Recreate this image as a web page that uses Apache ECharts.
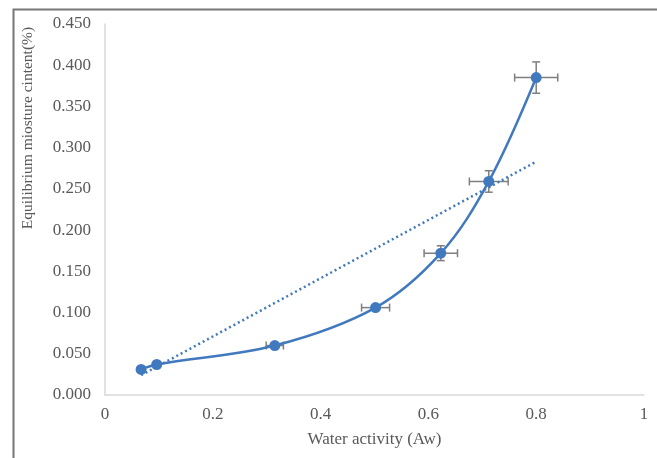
<!DOCTYPE html>
<html>
<head>
    <meta charset="utf-8">
    <script src="https://cdn.jsdelivr.net/npm/echarts@6/dist/echarts.min.js"></script>
    <style>
        html, body { margin: 0; padding: 0; background: #fff; }
        #chart { width: 657px; height: 458px; }
    </style>
</head>
<body>
<div id="chart"></div>
<script>
// 数据
const waterActivity = [0.067, 0.096, 0.315, 0.502, 0.623, 0.712, 0.800]
const moisture = [0.031, 0.037, 0.060, 0.106, 0.172, 0.259, 0.385]
const xError = [0.000, 0.000, 0.016, 0.026, 0.031, 0.036, 0.040]
const yError = [0.000, 0.000, 0.002, 0.003, 0.009, 0.013, 0.019]
// 趋势线两端
const trendX = [0.067, 0.800]
const trendY = [0.024, 0.283]
const xTickLabels = ['0', '0.2', '0.4', '0.6', '0.8', '1']
const yTickLabels = ['0.000', '0.050', '0.100', '0.150', '0.200', '0.250', '0.300', '0.350', '0.400', '0.450']

const blue = '#4179bf'
const errColor = '#7f7f7f'
const font = '"Liberation Serif", "Times New Roman", serif'

const chart = echarts.init(document.getElementById('chart'))

chart.setOption({
    animation: false,
    grid: {
        left: 105,
        right: 13,
        top: 24,
        bottom: 63
    },
    graphic: [{
        type: 'rect',
        left: 11,
        top: 7,
        shape: { width: 645, height: 470 },
        style: { fill: 'none', stroke: '#777', lineWidth: 2 },
        silent: true
    }, {
        type: 'text',
        x: 28,
        y: 128,
        rotation: Math.PI / 2,
        style: {
            text: 'Equilibrium miosture cintent(%)',
            fill: '#595959',
            font: '15.5px ' + font,
            align: 'center',
            verticalAlign: 'middle'
        }
    }],
    xAxis: {
        type: 'value',
        min: 0,
        max: 1,
        interval: 0.2,
        name: 'Water activity (Aw)',
        nameLocation: 'middle',
        nameGap: 36,
        nameTextStyle: { color: '#595959', fontSize: 17, fontFamily: font },
        axisLine: { lineStyle: { color: '#d9d9d9', width: 1.5 } },
        axisTick: { show: false },
        splitLine: { show: false },
        axisLabel: {
            color: '#595959',
            fontSize: 17,
            fontFamily: font,
            margin: 11,
            formatter: (v) => xTickLabels[Math.round(v / 0.2)]
        }
    },
    yAxis: {
        type: 'value',
        min: 0,
        max: 0.45,
        interval: 0.05,
        axisLine: { show: true, lineStyle: { color: '#d9d9d9', width: 1.5 } },
        axisTick: { show: false },
        splitLine: { show: false },
        axisLabel: {
            color: '#595959',
            fontSize: 17,
            fontFamily: font,
            margin: 14,
            formatter: (v) => yTickLabels[Math.round(v / 0.05)]
        }
    },
    series: [{
        // 误差线
        type: 'custom',
        z: 1,
        data: waterActivity.map((x, i) => [x, moisture[i], xError[i], yError[i]]),
        renderItem: (params, api) => {
            const x = api.value(0)
            const y = api.value(1)
            const ex = api.value(2)
            const ey = api.value(3)
            const c = api.coord([x, y])
            const l = api.coord([x - ex, y])
            const r = api.coord([x + ex, y])
            const t = api.coord([x, y + ey])
            const b = api.coord([x, y - ey])
            const style = { stroke: errColor, lineWidth: 1.5 }
            const cap = 4
            const children = []
            if (ex > 0) {
                children.push(
                    { type: 'line', shape: { x1: l[0], y1: c[1], x2: r[0], y2: c[1] }, style },
                    { type: 'line', shape: { x1: l[0], y1: c[1] - cap, x2: l[0], y2: c[1] + cap }, style },
                    { type: 'line', shape: { x1: r[0], y1: c[1] - cap, x2: r[0], y2: c[1] + cap }, style }
                )
            }
            if (ey > 0) {
                children.push(
                    { type: 'line', shape: { x1: c[0], y1: t[1], x2: c[0], y2: b[1] }, style },
                    { type: 'line', shape: { x1: c[0] - cap, y1: t[1], x2: c[0] + cap, y2: t[1] }, style },
                    { type: 'line', shape: { x1: c[0] - cap, y1: b[1], x2: c[0] + cap, y2: b[1] }, style }
                )
            }
            return { type: 'group', children }
        }
    }, {
        // 线性趋势线
        type: 'line',
        z: 2,
        data: trendX.map((x, i) => [x, trendY[i]]),
        showSymbol: false,
        lineStyle: { color: blue, width: 2.5, type: [2, 3] }
    }, {
        type: 'line',
        z: 3,
        smooth: 0.35,
        data: waterActivity.map((x, i) => [x, moisture[i]]),
        symbol: 'circle',
        symbolSize: 11,
        itemStyle: { color: blue },
        lineStyle: { color: blue, width: 2.5 }
    }]
})
</script>
</body>
</html>
